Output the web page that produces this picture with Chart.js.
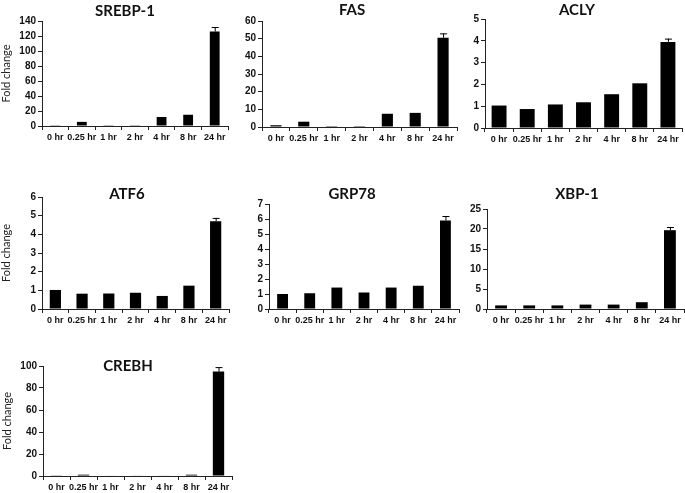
<!DOCTYPE html>
<html>
<head>
<meta charset="utf-8">
<script src="https://cdn.jsdelivr.net/npm/chart.js@4"></script>
<style>
  body { margin: 0; background: #fff; }
  #wrap { position: relative; width: 685px; height: 493px; overflow: hidden; }
  canvas { position: absolute; }
  .ttl { position: absolute; width: 120px; text-align: center; font: bold 15px Lato, sans-serif; color: #111; line-height: 18px; }
</style>
</head>
<body>
<div id="wrap"></div>
<script>
const timeLabels = ['0 hr', '0.25 hr', '1 hr', '2 hr', '4 hr', '8 hr', '24 hr'];

const srebp1 = [1, 5.5, 1, 1, 12, 15, 126];
const srebp1Err = [0.2, 0.5, 0.1, 0.1, 0.6, 0.6, 6];
const fas = [1, 3, 0.5, 0.5, 7.5, 8, 50.5];
const fasErr = [0.1, 0.2, 0.05, 0.05, 0.2, 0.4, 2.5];
const acly = [1.03, 0.87, 1.08, 1.18, 1.55, 2.05, 3.95];
const aclyErr = [0.01, 0.01, 0.01, 0.01, 0.01, 0.05, 0.15];
const atf6 = [1.02, 0.82, 0.83, 0.87, 0.7, 1.25, 4.7];
const atf6Err = [0.01, 0.01, 0.03, 0.01, 0.01, 0.03, 0.18];
const grp78 = [1.0, 1.05, 1.43, 1.1, 1.43, 1.55, 5.9];
const grp78Err = [0.03, 0.02, 0.04, 0.02, 0.02, 0.03, 0.3];
const xbp1 = [0.9, 0.9, 0.9, 1.1, 1.1, 1.7, 19.7];
const xbp1Err = [0.05, 0.05, 0.05, 0.05, 0.05, 0.1, 0.8];
const crebh = [0.3, 1.2, 0.5, 0.4, 0.4, 1.2, 95];
const crebhErr = [0.1, 0.2, 0.1, 0.1, 0.1, 0.2, 4];

const yMax = [140, 60, 5, 6, 7, 25, 100];
const yStep = [20, 10, 1, 1, 1, 5, 20];

// panel placement: axis x, top tick y, zero y, right end, bar width fraction, title centre
const panels = [
  { name: 'SREBP-1', data: srebp1, err: srebp1Err, ax: 42, top: 21, zero: 126, right: 228, bw: 0.37, tx: 125, ty: 10, fold: true },
  { name: 'FAS', data: fas, err: fasErr, ax: 262, top: 21, zero: 127, right: 457, bw: 0.4, tx: 352, ty: 9 },
  { name: 'ACLY', data: acly, err: aclyErr, ax: 485, top: 19, zero: 128, right: 682, bw: 0.53, tx: 577, ty: 9 },
  { name: 'ATF6', data: atf6, err: atf6Err, ax: 42, top: 197, zero: 309, right: 229, bw: 0.42, tx: 127, ty: 193, fold: true },
  { name: 'GRP78', data: grp78, err: grp78Err, ax: 269, top: 204, zero: 309, right: 459, bw: 0.4, tx: 352, ty: 193 },
  { name: 'XBP-1', data: xbp1, err: xbp1Err, ax: 487, top: 209, zero: 309, right: 684, bw: 0.42, tx: 577, ty: 193 },
  { name: 'CREBH', data: crebh, err: crebhErr, ax: 43, top: 366, zero: 476, right: 232, bw: 0.42, tx: 128, ty: 365, fold: true }
];

// upper error bars with a cap
const errorBars = {
  id: 'errorBars',
  afterDatasetsDraw(chart) {
    const ctx = chart.ctx;
    const y = chart.scales.y;
    const errs = chart.data.datasets[0].err;
    chart.getDatasetMeta(0).data.forEach((bar, i) => {
      const v = chart.data.datasets[0].data[i];
      const yTop = y.getPixelForValue(v + errs[i]);
      const yBar = y.getPixelForValue(v);
      if (yBar - yTop < 1.5) return;
      ctx.save();
      ctx.strokeStyle = '#000';
      ctx.lineWidth = 1;
      ctx.beginPath();
      ctx.moveTo(bar.x + 0.5, yBar);
      ctx.lineTo(bar.x + 0.5, yTop);
      ctx.moveTo(bar.x - 3, yTop + 0.5);
      ctx.lineTo(bar.x + 4, yTop + 0.5);
      ctx.stroke();
      ctx.restore();
    });
  }
};

const wrap = document.getElementById('wrap');
const xFont = { family: 'Liberation Sans, Arial, sans-serif', size: 9, weight: 'bold' };
const yFont = { family: 'Liberation Sans, Arial, sans-serif', size: 10, weight: 'bold' };
const padTop = 8, xH = 20;

panels.forEach((p, k) => {
  const yW = p.fold ? 42 : 28;
  const left = p.ax - yW;
  const c = document.createElement('canvas');
  const w = p.right - left + 2;
  const h = p.zero - p.top + padTop + xH;
  c.width = w; c.height = h;
  c.style.left = left + 'px';
  c.style.top = (p.top - padTop) + 'px';
  c.style.width = w + 'px';
  c.style.height = h + 'px';
  wrap.appendChild(c);

  const t = document.createElement('div');
  t.className = 'ttl';
  t.textContent = p.name;
  t.style.left = (p.tx - 60) + 'px';
  t.style.top = (p.ty - 9) + 'px';
  wrap.appendChild(t);

  new Chart(c, {
    type: 'bar',
    data: {
      labels: timeLabels,
      datasets: [{
        data: p.data,
        err: p.err,
        backgroundColor: '#000',
        borderWidth: 0,
        barPercentage: p.bw,
        categoryPercentage: 1
      }]
    },
    options: {
      responsive: false,
      animation: false,
      layout: { padding: { top: padTop, left: 0, right: 2, bottom: 0 } },
      plugins: { legend: { display: false }, tooltip: { enabled: false } },
      scales: {
        x: {
          afterFit: s => { s.height = xH; },
          grid: { drawOnChartArea: false, tickLength: 4, color: '#222', offset: true },
          border: { color: '#222', width: 1 },
          ticks: { font: xFont, color: '#111', padding: 2, maxRotation: 0, autoSkip: false }
        },
        y: {
          min: 0,
          max: yMax[k],
          afterFit: s => { s.width = yW; },
          grid: { drawOnChartArea: false, tickLength: 4, color: '#222' },
          border: { color: '#222', width: 1 },
          ticks: { stepSize: yStep[k], font: yFont, color: '#111', padding: 2 },
          title: {
            display: !!p.fold,
            text: 'Fold change',
            font: { family: 'Lato, sans-serif', size: 11 },
            color: '#222',
            padding: { top: 0, bottom: 0 }
          }
        }
      }
    },
    plugins: [errorBars]
  });
});
</script>
</body>
</html>
